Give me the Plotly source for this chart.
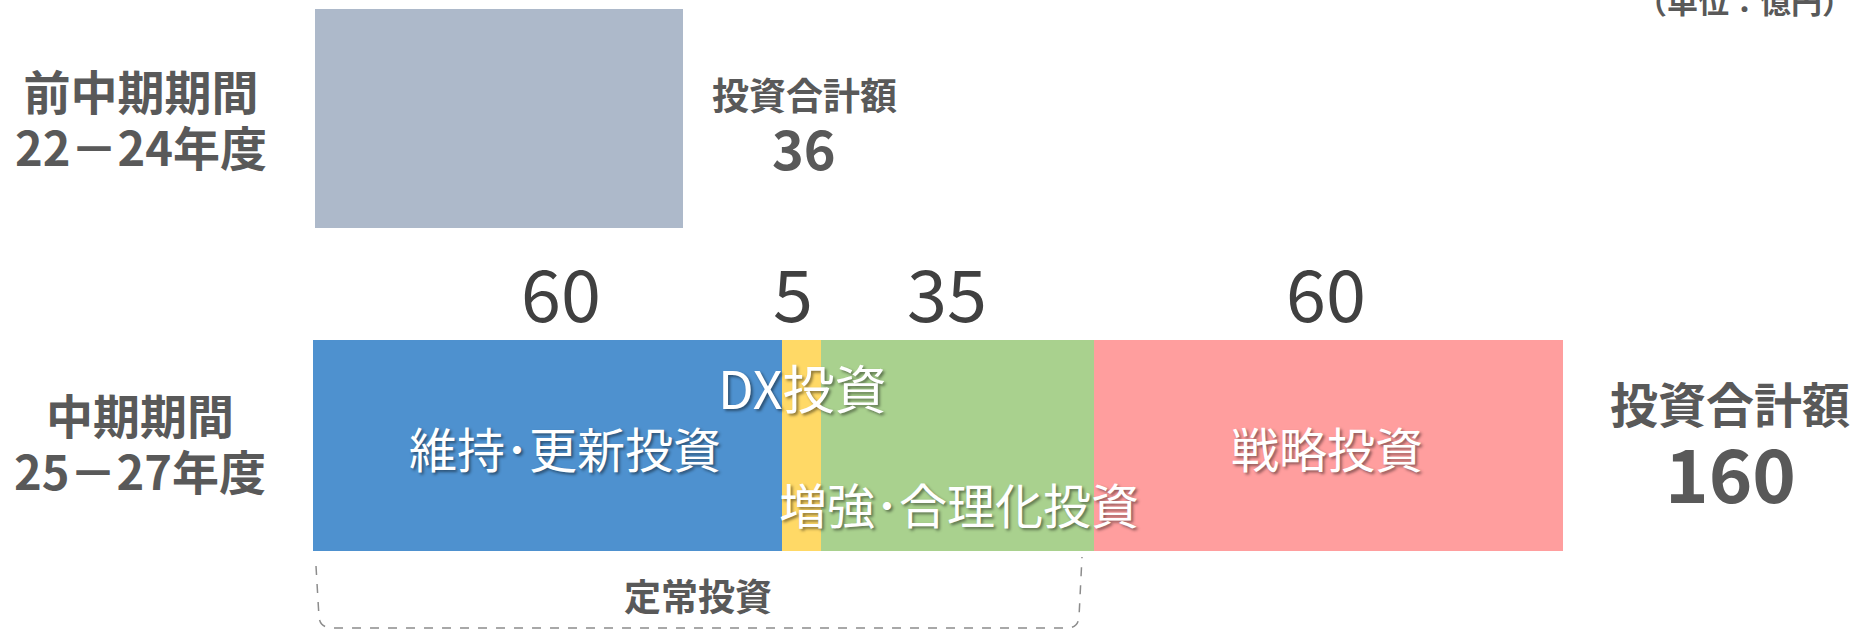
import plotly.graph_objects as go
import numpy as np

W, H = 1855, 629

# ---- data ----
prev_label = ["前中期期間", "22－24年度"]
cur_label = ["中期期間", "25－27年度"]
prev_total = [36]
categories = ["維持・更新投資", "DX投資", "増強・合理化投資", "戦略投資"]
values = [60, 5, 35, 60]
colors = ["#4E91CF", "#FFD966", "#A9D18E", "#FF9E9E"]
prev_color = "#ADB9CA"
unit_label = "（単位：億円）"
total_label = "投資合計額"
bracket_label = "定常投資"

FONT = "Noto Sans CJK JP"
GRAY = "#595959"
DARK = "#404040"


def px(x):
    return x / W


def py(y):
    return 1 - y / H


cur_total = int(sum(values))
cum = np.cumsum(values)
mids = cum - np.array(values) / 2

fig = go.Figure()

# previous-period bar (own scale)
fig.add_trace(go.Bar(
    x=prev_total, y=[0], orientation="h", width=1,
    marker=dict(color=prev_color, line=dict(width=0)),
    xaxis="x2", yaxis="y2", hoverinfo="skip",
))

# current-period stacked bar
for cat, v, c in zip(categories, values, colors):
    fig.add_trace(go.Bar(
        x=[v], y=[0], orientation="h", width=1, name=cat,
        marker=dict(color=c, line=dict(width=0)), hoverinfo="skip",
    ))

ann = []
# left row labels (two lines each)
ann.append(dict(x=px(141), y=py(118), font=dict(size=43, color=GRAY),
                text=f"<b><span style='font-size:47px'>{prev_label[0]}</span><br>"
                     f"<span style='font-size:47px'>{prev_label[1]}</span></b>"))
ann.append(dict(x=px(140), y=py(441), font=dict(size=43, color=GRAY),
                text=f"<b><span style='font-size:47px'>{cur_label[0]}</span><br>"
                     f"<span style='font-size:47px'>{cur_label[1]}</span></b>"))

# previous total
ann.append(dict(x=px(804), y=py(94), text=f"<b>{total_label}</b>", font=dict(size=37, color=GRAY)))
ann.append(dict(x=px(804), y=py(146), text=f"<b>{prev_total[0]}</b>", font=dict(size=54, color=GRAY)))

# current total
ann.append(dict(x=px(1730), y=py(402), text=f"<b>{total_label}</b>", font=dict(size=48, color=GRAY)))
ann.append(dict(x=px(1730), y=py(470), text=f"<b>{cur_total}</b>", font=dict(size=74, color=GRAY)))

# unit
ann.append(dict(x=1, y=py(-1), xanchor="right", text=f"<b>{unit_label}</b>", font=dict(size=31, color=GRAY)))

# value labels above segments
shifts = [14, -8, -11, -3]
for m, v, s in zip(mids, values, shifts):
    ann.append(dict(x=m, xref="x", y=py(290), text=str(v), xshift=s, font=dict(size=72, color=DARK)))

# inside labels
shadow = "2px 2px 3px rgba(0,0,0,0.45)"
inside = [
    (mids[0], 447, 18, 48, categories[0]),
    (mids[1], 386, 1, 52, categories[1]),
    (mids[2], 503, 1, 48, categories[2]),
    (mids[3], 447, -2, 48, categories[3]),
]
for m, yy, s, fs, t in inside:
    ann.append(dict(x=m, xref="x", y=py(yy), xshift=s, text=t.replace("・", "･"),
                    font=dict(size=fs, color="white", shadow=shadow)))

# bracket label
ann.append(dict(x=px(698), y=py(595), text=f"<b>{bracket_label}</b>", font=dict(size=37, color=GRAY)))

for a in ann:
    a.setdefault("xref", "paper")
    a.setdefault("yref", "paper")
    a.setdefault("xanchor", "center")
    a.setdefault("yanchor", "middle")
    a["showarrow"] = False
    a["font"]["family"] = FONT

# dashed bracket
pts = [(316, 566), (319, 617), (333, 628), (1067, 628), (1079, 617), (1082, 557)]
P = [(px(a), py(b)) for a, b in pts]
path = (f"M {P[0][0]},{P[0][1]} L {P[1][0]},{P[1][1]} Q {px(320)},{py(628)} {P[2][0]},{P[2][1]} "
        f"L {P[3][0]},{P[3][1]} Q {px(1078)},{py(628)} {P[4][0]},{P[4][1]} L {P[5][0]},{P[5][1]}")
shapes = [dict(type="path", xref="paper", yref="paper", path=path,
               line=dict(color="#8C8C8C", width=1.5, dash="dash"))]

fig.update_layout(
    width=W, height=H,
    margin=dict(l=0, r=0, t=0, b=0),
    paper_bgcolor="white", plot_bgcolor="white",
    barmode="stack", bargap=0, showlegend=False,
    font=dict(family=FONT),
    xaxis=dict(domain=[px(313), px(1563)], range=[0, cur_total], visible=False, fixedrange=True),
    yaxis=dict(domain=[py(551), py(340)], range=[-0.5, 0.5], visible=False, fixedrange=True),
    xaxis2=dict(domain=[px(315), px(683)], range=[0, prev_total[0]], anchor="y2", visible=False, fixedrange=True),
    yaxis2=dict(domain=[py(228), py(9)], range=[-0.5, 0.5], anchor="x2", visible=False, fixedrange=True),
    annotations=ann,
    shapes=shapes,
)

fig.write_html("out.html", config={"displayModeBar": False},
               post_script="document.body.style.margin='0';document.body.style.overflow='hidden';")
